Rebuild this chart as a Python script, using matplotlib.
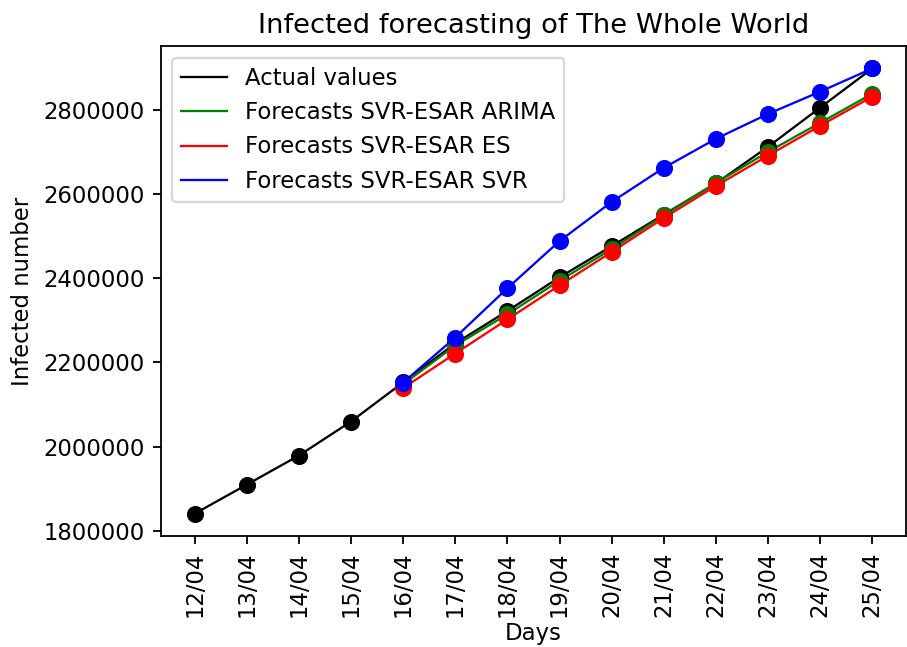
import matplotlib
matplotlib.use("Agg")
import matplotlib.pyplot as plt

# Days on the x axis
days = ["12/04", "13/04", "14/04", "15/04", "16/04", "17/04", "18/04",
        "19/04", "20/04", "21/04", "22/04", "23/04", "24/04", "25/04"]
forecast_days = days[4:]

# Values
actual = [1840500, 1909500, 1978600, 2059500, 2152400, 2245000, 2322000,
          2402000, 2476000, 2551000, 2625000, 2712000, 2805000, 2898000]
arima = [2148000, 2240000, 2314000, 2394000, 2469000, 2549000, 2626000,
         2700000, 2769000, 2838000]
es = [2139000, 2221000, 2302000, 2383000, 2462000, 2543000, 2619000,
      2691000, 2762000, 2831000]
svr = [2152000, 2259000, 2376000, 2488000, 2581000, 2662000, 2731000,
       2790000, 2843000, 2898000]

dpi = 164
fig = plt.figure(figsize=(908 / dpi, 647 / dpi), dpi=dpi)
ax = fig.add_axes([0.177, 0.1716, 0.821, 0.757])

# Lines
ax.plot(days, actual, color="black", lw=1, label="Actual values")
ax.plot(forecast_days, arima, color="green", lw=1, label="Forecasts SVR-ESAR ARIMA")
ax.plot(forecast_days, es, color="red", lw=1, label="Forecasts SVR-ESAR ES")
ax.plot(forecast_days, svr, color="blue", lw=1, label="Forecasts SVR-ESAR SVR")

# Markers
ax.plot(days, actual, "o", color="black", ms=6.5)
ax.plot(forecast_days, arima, "o", color="green", ms=6.5)
ax.plot(forecast_days, es, "o", color="red", ms=6.5)
ax.plot(forecast_days, svr, "o", color="blue", ms=6.5)

ax.set_title("Infected forecasting of The Whole World")
ax.set_xlabel("Days", labelpad=2)
ax.set_ylabel("Infected number")
ax.tick_params(axis="x", labelrotation=90)
ax.ticklabel_format(axis="y", style="plain")
ax.legend(loc="upper left")

fig.savefig("out.png", dpi=dpi)
